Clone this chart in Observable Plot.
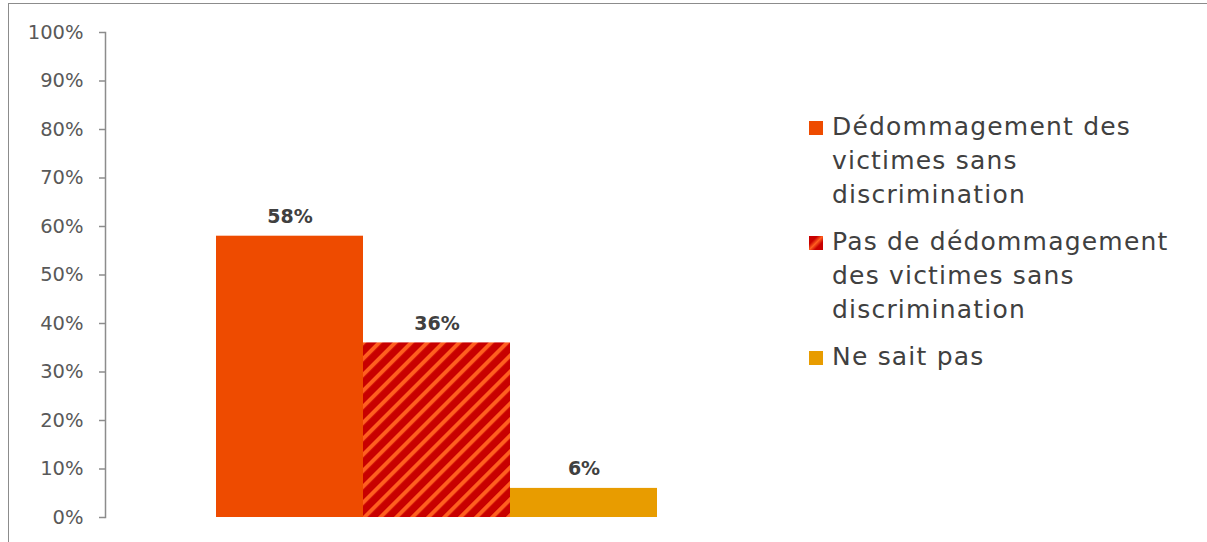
<!DOCTYPE html>
<html>
<head>
<meta charset="utf-8">
<script src="https://cdn.jsdelivr.net/npm/d3@7"></script>
<script src="https://cdn.jsdelivr.net/npm/@observablehq/plot@0.6"></script>
<style>
  html, body { margin: 0; padding: 0; background: #fff; }
  #wrap { position: relative; width: 1207px; height: 542px; overflow: hidden; font-family: "DejaVu Sans", sans-serif; }
  #border { position: absolute; left: 8px; top: 3px; width: 1300px; height: 600px; border-top: 1.5px solid #8c8c8c; border-left: 1.5px solid #8c8c8c; }
  #chart { position: absolute; left: 0; top: 0; }
  #legend { position: absolute; left: 809px; top: 110px; color: #404040; font-size: 25px; line-height: 34px; letter-spacing: 1.2px; }
  .item { display: flex; align-items: flex-start; margin-bottom: 13px; }
  .sw { width: 14px; height: 14px; margin-top: 11px; margin-right: 9px; flex: none; }
</style>
</head>
<body>
<div id="wrap">
  <div id="border"></div>
  <div id="chart"></div>
  <div id="legend"></div>
</div>
<script>
const categories = [
  "Dédommagement des victimes sans discrimination",
  "Pas de dédommagement des victimes sans discrimination",
  "Ne sait pas"
];
const legendLines = [
  ["Dédommagement des", "victimes sans", "discrimination"],
  ["Pas de dédommagement", "des victimes sans", "discrimination"],
  ["Ne sait pas"]
];
const values = [0.58, 0.36, 0.06];
const valueLabels = ["58%", "36%", "6%"];
const fills = ["#EE4B00", "url(#stripes)", "#E89C00"];
const yTicks = [0, 0.1, 0.2, 0.3, 0.4, 0.5, 0.6, 0.7, 0.8, 0.9, 1];

const data = categories.map((c, i) => ({cat: c, value: values[i], label: valueLabels[i]}));

const chart = Plot.plot({
  width: 1207,
  height: 542,
  marginTop: 32,
  marginBottom: 25,
  marginLeft: 105,
  marginRight: 0,
  style: {fontFamily: "DejaVu Sans, sans-serif", background: "transparent", overflow: "visible"},
  x: {domain: categories, range: [216, 657], padding: 0, axis: null},
  y: {domain: [0, 1], axis: null},
  color: {domain: categories, range: fills},
  marks: [
    Plot.barY(data, {x: "cat", y: "value", fill: "cat", inset: 0}),
    Plot.frame({anchor: "left", stroke: "#8c8c8c", strokeWidth: 1.5, strokeOpacity: 1}),
    Plot.axisY({ticks: yTicks, tickFormat: d => Math.round(d * 100) + "%", tickSize: 6, tickPadding: 16,
      stroke: "#8c8c8c", strokeWidth: 1.5, strokeOpacity: 1, fill: "#595959", fontSize: 19.5, label: null}),
    Plot.text(data, {x: "cat", y: "value", text: "label", lineAnchor: "bottom", dy: -13,
      fontWeight: "bold", fontSize: 19, fill: "#404040"})
  ]
});

const defs = `<defs>
  <pattern id="stripes" patternUnits="userSpaceOnUse" width="11.3" height="11.3" patternTransform="rotate(45)">
    <rect width="11.3" height="11.3" fill="#C80000"/>
    <rect x="0" width="4" height="11.3" fill="#FF5F1F"/>
  </pattern>
</defs>`;
chart.insertAdjacentHTML("afterbegin", defs);
document.getElementById("chart").appendChild(chart);

const legend = d3.select("#legend");
categories.forEach((c, i) => {
  const item = legend.append("div").attr("class", "item");
  const sw = item.append("div").attr("class", "sw");
  if (i === 1) {
    sw.style("background", "linear-gradient(135deg, #C80000 0%, #C80000 30%, #FF5F1F 50%, #C80000 70%, #C80000 100%)");
  } else {
    sw.style("background", fills[i]);
  }
  item.append("div").html(legendLines[i].join("<br>"));
});
</script>
</body>
</html>
